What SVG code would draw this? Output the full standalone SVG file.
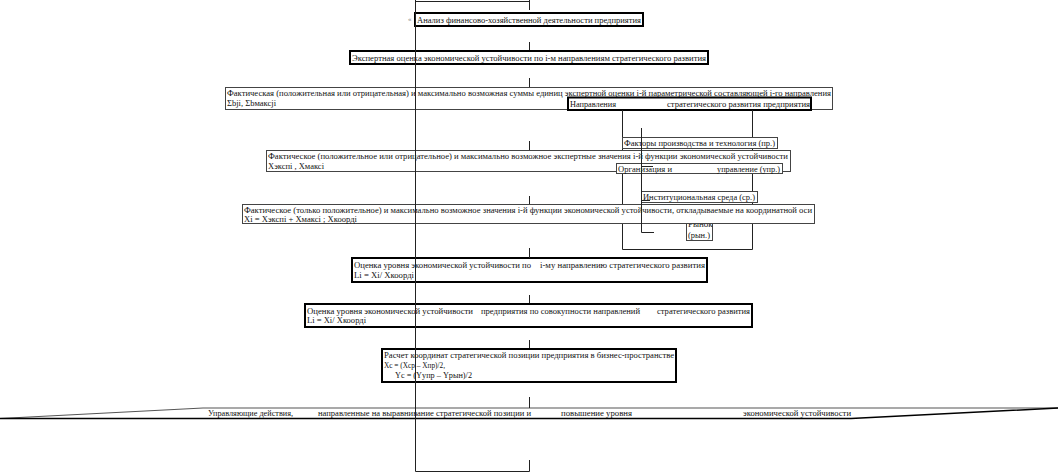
<svg xmlns="http://www.w3.org/2000/svg" width="1058" height="473" viewBox="0 0 1058 473">
<style>
text{font-family:"Liberation Serif","Times New Roman",serif;font-size:9px;fill:#111}
.thin{fill:#fff;stroke:#444;stroke-width:1}
.thick{fill:#fff;stroke:#000;stroke-width:2}
.ln{stroke:#222;stroke-width:1;fill:none}
</style>
<rect width="1058" height="473" fill="#fff"/>
<g id="n3"><rect class="thin" x="225.5" y="87.5" width="607" height="22"/>
<text x="227" y="95.5" textLength="604" lengthAdjust="spacingAndGlyphs">Фактическая (положительная или отрицательная) и максимально возможная суммы единиц экспертной оценки i-й параметрической составляющей i-го направления</text>
<text x="227" y="105.5" textLength="49" lengthAdjust="spacingAndGlyphs">Ʃbji, Ʃbмаксji</text></g>
<g id="n4"><rect class="thick" x="568" y="97.5" width="243" height="12.5"/>
<text x="570" y="106.5" textLength="46" lengthAdjust="spacingAndGlyphs">Направления</text>
<text x="667" y="106.5" textLength="143" lengthAdjust="spacingAndGlyphs">стратегического развития предприятия</text></g>
<g id="dirframe"><path class="ln" d="M622.5 110V249.5H752.5V110"/></g>
<g id="n7f"><rect class="thin" x="622.5" y="137.5" width="155" height="11"/>
<text x="624" y="145.5" textLength="151" lengthAdjust="spacingAndGlyphs">Факторы производства и технология (пр.)</text></g>
<g id="n5"><rect class="thin" x="266.5" y="150.5" width="524" height="21"/>
<text x="268" y="158.5" textLength="520" lengthAdjust="spacingAndGlyphs">Фактическое (положительное или отрицательное)  и максимально возможное экспертные значения i-й функции экономической устойчивости</text>
<text x="268" y="168.5" textLength="56" lengthAdjust="spacingAndGlyphs">Хэкспі , Хмаксі</text></g>
<g id="n6org"><rect class="thin" x="616.5" y="163.5" width="166" height="10"/>
<text x="618" y="171.5" textLength="54" lengthAdjust="spacingAndGlyphs">Организация и</text>
<text x="717" y="171.5" textLength="63" lengthAdjust="spacingAndGlyphs">управление (упр.)</text></g>
<g id="n8inst"><rect class="thin" x="641.5" y="191.5" width="116" height="11"/>
<text x="643" y="199.5" textLength="112" lengthAdjust="spacingAndGlyphs">Институциональная среда (ср.)</text></g>
<g id="n10market"><rect class="thin" x="686.5" y="216.5" width="26" height="24"/>
<text x="688" y="227">Рынок</text>
<text x="688" y="237.5" textLength="22" lengthAdjust="spacingAndGlyphs">(рын.)</text></g>
<g id="n9"><rect class="thin" x="242.5" y="204.5" width="572" height="19"/>
<text x="244" y="212.5" textLength="568" lengthAdjust="spacingAndGlyphs">Фактическое (только положительное) и максимально возможное значения i-й функции экономической устойчивости, откладываемые на координатной оси</text>
<text x="244" y="221.5" textLength="113" lengthAdjust="spacingAndGlyphs">Xi = Хэкспі + Хмаксі ; Хкоордi</text></g>
<g id="n1"><rect class="thick" x="415" y="13" width="228" height="13"/>
<text x="417" y="22.5" textLength="224" lengthAdjust="spacingAndGlyphs">Анализ финансово-хозяйственной деятельности предприятия</text>
<text x="408" y="21" style="font-size:7px;fill:#777">«</text></g>
<g id="n2"><rect class="thick" x="350" y="51" width="358" height="13"/>
<text x="352" y="60.5" textLength="354" lengthAdjust="spacingAndGlyphs">Экспертная оценка экономической устойчивости по i-м направлениям стратегического развития</text></g>
<g id="n11"><rect class="thick" x="352" y="258" width="355" height="24"/>
<text x="354" y="268" textLength="177" lengthAdjust="spacingAndGlyphs">Оценка уровня экономической устойчивости по</text>
<text x="540" y="268" textLength="165" lengthAdjust="spacingAndGlyphs">i-му направлению стратегического развития</text>
<text x="354" y="278" textLength="60" lengthAdjust="spacingAndGlyphs">Li = Xi/ Xкоордi</text></g>
<g id="n12"><rect class="thick" x="305" y="304" width="447" height="23"/>
<text x="307" y="313.5" textLength="166" lengthAdjust="spacingAndGlyphs">Оценка уровня экономической устойчивости</text>
<text x="481" y="313.5" textLength="159" lengthAdjust="spacingAndGlyphs">предприятия по совокупности направлений</text>
<text x="657" y="313.5" textLength="93" lengthAdjust="spacingAndGlyphs">стратегического развития</text>
<text x="307" y="323" textLength="59" lengthAdjust="spacingAndGlyphs">Li = Xi/ Xкоордi</text></g>
<g id="n13"><rect class="thick" x="382" y="349" width="294" height="33"/>
<text x="384" y="358" textLength="290" lengthAdjust="spacingAndGlyphs">Расчет координат стратегической позиции предприятия в бизнес-пространстве</text>
<text x="384" y="368" textLength="61" lengthAdjust="spacingAndGlyphs">Xc = (Xср – Xпр)/2,</text>
<text x="395" y="378" textLength="77" lengthAdjust="spacingAndGlyphs">Yc = (Yупр – Yрын)/2</text></g>
<g id="n14">
<path d="M0 418.5L203 408H1058" fill="none" stroke="#555" stroke-width="1.2"/>
<path d="M0 418.5H851L1058 408" fill="none" stroke="#000" stroke-width="1.5"/>
<text x="208" y="416" textLength="85" lengthAdjust="spacingAndGlyphs">Управляющие действия,</text>
<text x="318" y="416" textLength="213" lengthAdjust="spacingAndGlyphs">направленные на выравнивание стратегической позиции и</text>
<text x="561" y="416" textLength="71" lengthAdjust="spacingAndGlyphs">повышение уровня</text>
<text x="743" y="416" textLength="108" lengthAdjust="spacingAndGlyphs">экономической устойчивости</text></g>
<g id="connectors" class="ln">
<path class="ln" d="M529.5 0V10M415 1.5H529.5"/>
<path class="ln" d="M529.5 42V50"/>
<path class="ln" d="M529.5 78V87"/>
<path class="ln" d="M529.5 141V150"/>
<path class="ln" d="M529.5 196V204"/>
<path class="ln" d="M529.5 248V258"/>
<path class="ln" d="M529.5 295V303"/>
<path class="ln" d="M529.5 340V348"/>
<path class="ln" d="M529.5 397V408"/>
<path class="ln" d="M529.5 460V471.5H415.5V0"/>
<path class="ln" d="M641.5 128V232.5H654M641.5 166.5H653M641.5 200.5H650"/>
</g>
</svg>
